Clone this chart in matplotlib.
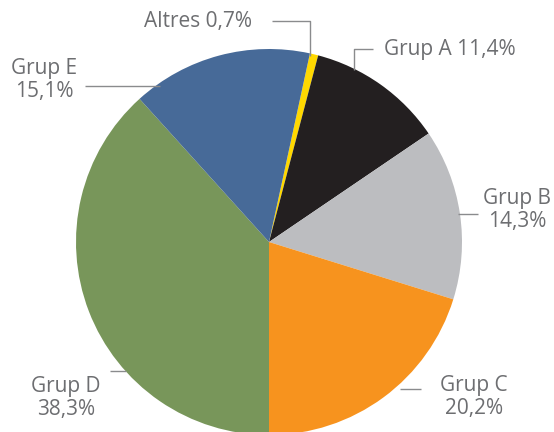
import matplotlib
matplotlib.use('Agg')
import matplotlib.pyplot as plt

labels = ['Altres', 'Grup A', 'Grup B', 'Grup C', 'Grup D', 'Grup E']
values = [0.7, 11.4, 14.3, 20.2, 38.3, 15.1]
colors = ['#FFD800', '#231F20', '#BCBDC0', '#F7931E', '#78965A', '#476A98']

W, H = 554, 432
txt_col = '#6D6E71'
line_col = '#8A8B8D'
plt.rcParams['font.family'] = ['Open Sans', 'DejaVu Sans']

fig = plt.figure(figsize=(W / 100, H / 100), dpi=100)
ax = fig.add_axes([0, 0, 1, 1])

# pixel coords -> data (y up)
def py(y):
    return H - y

# start so that Grup D begins straight down
start = 90 - (180 - sum(values[:4]) / sum(values) * 360)
ax.pie(values, colors=colors, startangle=start, counterclock=False,
       center=(269, py(242)), radius=193,
       wedgeprops=dict(linewidth=0))
ax.set_xlim(0, W)
ax.set_ylim(0, H)
ax.set_aspect('equal')
ax.axis('off')

def fmt(v):
    return ('%.1f%%' % v).replace('.', ',')

# leader lines (pixel coords)
lines = [
    ([272, 310, 310], [21, 21, 56]),   # Altres
    ([373, 354, 354], [49, 49, 70]),   # A
    ([458, 478], [214, 214]),          # B
    ([400, 421], [389, 389]),          # C
    ([110, 126], [371, 371]),          # D
    ([85, 160], [86, 86]),             # E
]
for xs, ys in lines:
    ax.plot(xs, [py(y) for y in ys], color=line_col, lw=1, solid_capstyle='butt')

fs = 15
ax.text(252, py(21), labels[0] + ' ' + fmt(values[0]), ha='right', va='center', fontsize=fs, color=txt_col)
ax.text(384, py(49), labels[1] + ' ' + fmt(values[1]), ha='left', va='center', fontsize=fs, color=txt_col)
pos2 = {2: (517, 210), 3: (474, 397), 4: (66, 398), 5: (44, 80)}
for i, (x, y) in pos2.items():
    ax.text(x, py(y), labels[i] + '\n' + fmt(values[i]), ha='center', va='center',
            fontsize=fs, color=txt_col, linespacing=1.15)

fig.savefig('out.png', dpi=100)
